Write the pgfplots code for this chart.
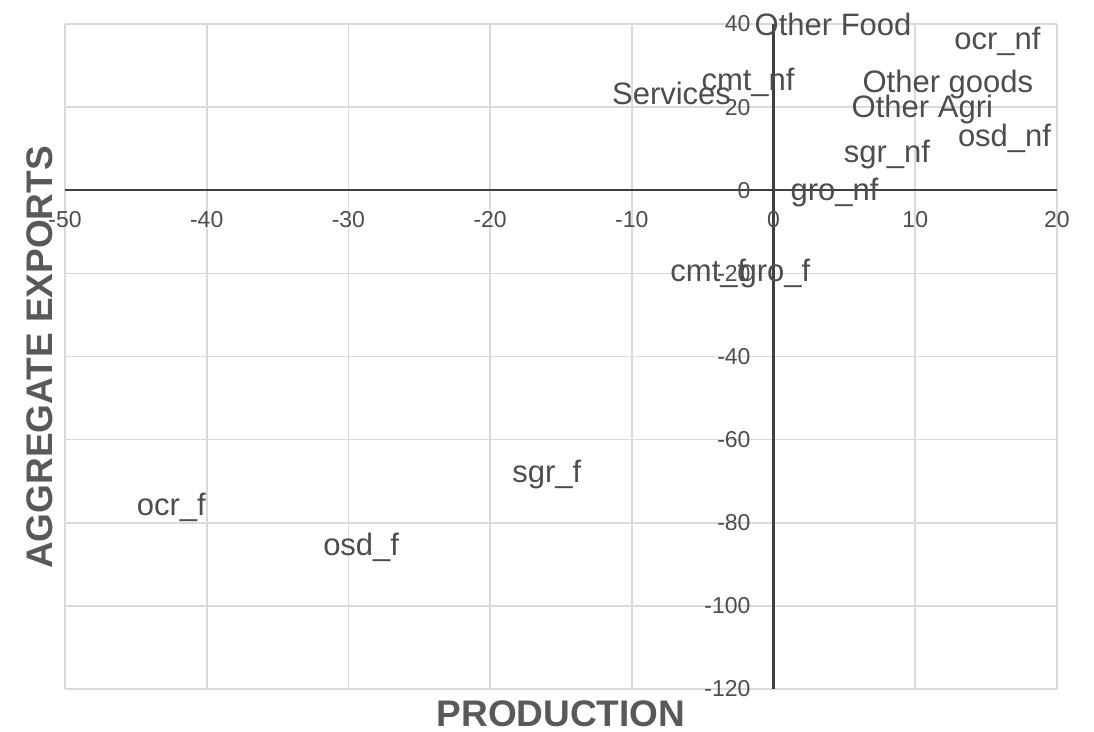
\documentclass[border=0pt]{standalone}
\usepackage{fontspec}
\setmainfont{Liberation Sans}
\usepackage{pgfplots}
\usepackage{pgfplotstable}
\pgfplotsset{compat=1.18}
\definecolor{txt}{HTML}{4D4D4D}
\definecolor{ttl}{HTML}{595959}
\definecolor{grd}{HTML}{DADADA}
\definecolor{axl}{HTML}{404040}
\pgfplotstableread[col sep=comma]{
x,y,label
4.2,40.0,Other Food
15.8,35.7,ocr\_nf
-7.2,23.2,Services
-1.8,25.9,cmt\_nf
12.3,25.5,Other goods
10.5,19.5,Other Agri
16.3,12.6,osd\_nf
8.0,8.6,sgr\_nf
4.3,-0.6,gro\_nf
-4.6,-20.1,cmt\_f
0.1,-20.1,gro\_f
-16.0,-68.3,sgr\_f
-42.5,-76.4,ocr\_f
-29.1,-86.0,osd\_f
}\pts
\begin{document}
\begin{tikzpicture}
\path[use as bounding box] (-32.5pt,-21.5pt) rectangle (514.5pt,344.5pt);
\begin{axis}[
  at={(0,0)}, anchor=south west,
  scale only axis, width=496pt, height=332.5pt,
  xmin=-50, xmax=20, ymin=-120, ymax=40,
  xtick={-50,-40,...,20}, ytick={-120,-100,...,40},
  axis lines=middle,
  axis line style={draw=axl, line width=1.2pt, -},
  hide obscured x ticks=false, hide obscured y ticks=false,
  major tick length=0pt,
  grid=major,
  major grid style={draw=grd, line width=0.8pt},
  /pgf/number format/assume math mode=true,
  tick label style={font=\fontsize{11.5}{13}\selectfont, text=txt},
  xticklabel style={anchor=north, yshift=-7pt},
  yticklabel style={anchor=east, xshift=-8pt},
  clip=false,
]
\addplot[only marks, mark=none, nodes near coords, point meta=explicit symbolic,
  every node near coord/.append style={anchor=center, inner sep=0pt, font=\fontsize{15.5}{18}\selectfont, text=txt}]
  table[x=x, y=y, meta=label] {\pts};
\node[font=\bfseries\fontsize{18.5}{22}\selectfont, text=ttl] at (rel axis cs:0.5,0) [yshift=-12.5pt] {PRODUCTION};
\node[font=\bfseries\fontsize{18.5}{22}\selectfont, text=ttl, xshift=-12.5pt, yshift=-0.5pt, rotate=90] at (rel axis cs:0,0.5) {AGGREGATE EXPORTS};
\end{axis}
\end{tikzpicture}
\end{document}
